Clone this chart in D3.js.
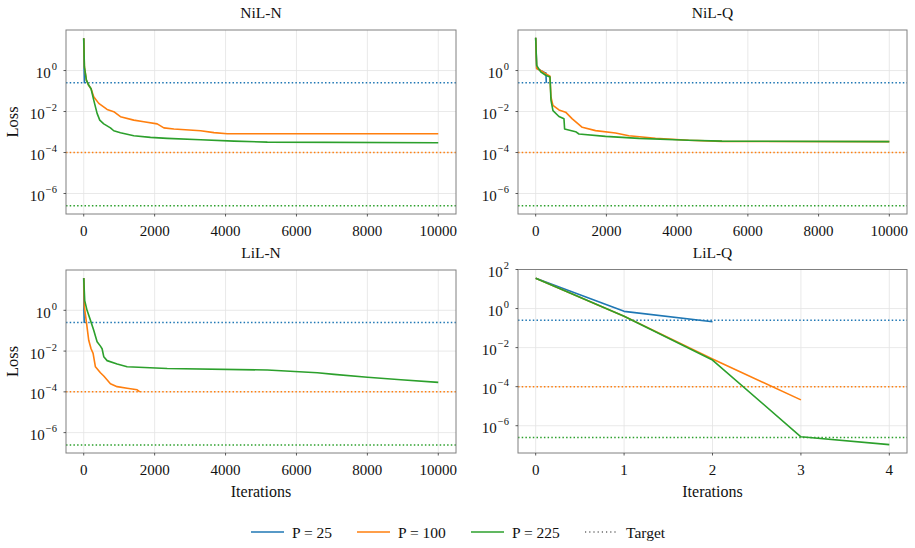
<!DOCTYPE html>
<html>
<head>
<meta charset="utf-8">
<script src="https://cdn.jsdelivr.net/npm/d3@7"></script>
<style>
  body { margin: 0; background: #fff; }
  text { font-family: "Liberation Serif", "DejaVu Serif", serif; fill: #111; }
</style>
</head>
<body>
<div id="main"></div>
<script>
// series labels and colours
const seriesNames = ['P = 25', 'P = 100', 'P = 225'];
const colors = ['#1f77b4', '#ff7f0e', '#2ca02c'];
// target loss for each P
const targets = [0.25, 1e-4, 2.5e-7];

// NiL-N : [iteration, loss]
const nilN_p25 = [[0, 38], [10, 1.2], [20, 0.24]];
const nilN_p100 = [[0, 38], [19, 1.5], [75, 0.34], [141, 0.19], [207, 0.13], [282, 0.052], [424, 0.025],
  [659, 0.0126], [847, 9.8e-3], [1036, 5.6e-3], [1412, 3.8e-3], [1695, 3.2e-3], [2072, 2.5e-3],
  [2260, 1.6e-3], [2542, 1.4e-3], [3296, 1.15e-3], [3672, 9.3e-4], [4049, 8.3e-4], [10000, 8.3e-4]];
const nilN_p225 = [[0, 38], [19, 1.5], [75, 0.34], [141, 0.19], [207, 0.13], [282, 0.036], [377, 8.1e-3],
  [452, 3.8e-3], [565, 2.5e-3], [753, 1.6e-3], [847, 1.15e-3], [1036, 9.3e-4], [1412, 6.6e-4],
  [1883, 5.5e-4], [2354, 4.9e-4], [3296, 4.2e-4], [4237, 3.6e-4], [5179, 3.2e-4], [10000, 3.0e-4]];

// NiL-Q
const nilQ_p25 = [[0, 40], [28, 1.3], [141, 1.0], [250, 0.8], [290, 0.75], [300, 0.25]];
const nilQ_p100 = [[0, 40], [28, 1.25], [141, 1.0], [282, 0.71], [404, 0.53], [433, 0.05], [489, 0.02],
  [658, 0.012], [847, 9.3e-3], [1035, 4.4e-3], [1317, 1.7e-3], [1693, 1.17e-3], [2258, 8.9e-4],
  [2634, 6.6e-4], [3387, 5.0e-4], [4327, 4.0e-4], [5268, 3.5e-4], [10000, 3.4e-4]];
const nilQ_p225 = [[0, 40], [28, 1.8], [141, 0.86], [282, 0.59], [404, 0.49], [433, 0.035], [489, 0.011],
  [658, 5.7e-3], [800, 4.4e-3], [818, 1.4e-3], [1129, 1.04e-3], [1223, 8e-4], [1975, 6.1e-4],
  [2916, 4.9e-4], [4327, 4.0e-4], [5268, 3.6e-4], [10000, 3.4e-4]];

// LiL-N
const lilN_p25 = [[0, 38], [5, 1.0], [15, 0.24]];
const lilN_p100 = [[0, 38], [19, 1.45], [75, 0.27], [141, 0.034], [207, 0.013], [264, 7.7e-3], [330, 1.7e-3],
  [471, 8.7e-4], [565, 6e-4], [753, 2.5e-4], [942, 1.8e-4], [1224, 1.5e-4], [1507, 1.26e-4], [1582, 1e-4]];
const lilN_p225 = [[0, 38], [28, 3], [94, 1], [188, 0.33], [282, 0.106], [377, 0.029], [471, 0.0175],
  [518, 0.013], [565, 5.3e-3], [659, 3.4e-3], [942, 2.3e-3], [1224, 1.7e-3], [2354, 1.4e-3],
  [5179, 1.18e-3], [6591, 8.7e-4], [7062, 7.2e-4], [8003, 5.2e-4], [8945, 3.9e-4], [10000, 2.9e-4]];

// LiL-Q
const lilQ_p25 = [[0, 36], [1, 0.72], [2, 0.21]];
const lilQ_p100 = [[0, 36], [1, 0.4], [2, 2.6e-3], [3, 2.1e-5]];
const lilQ_p225 = [[0, 36], [1, 0.4], [2, 2.3e-3], [3, 2.7e-7], [4, 1.07e-7]];

const xTicksLong = [0, 2000, 4000, 6000, 8000, 10000];
const xTicksShort = [0, 1, 2, 3, 4];
const yTicksA = [1e0, 1e-2, 1e-4, 1e-6];
const yTicksB = [1e2, 1e0, 1e-2, 1e-4, 1e-6];

const panels = [
  { title: 'NiL-N', series: [nilN_p25, nilN_p100, nilN_p225], box: [66, 456, 30, 214],
    xDomain: [-500, 10500], yDomain: [1e-7, 95], xTicks: xTicksLong, yTicks: yTicksA, yLabel: true, xLabel: false },
  { title: 'NiL-Q', series: [nilQ_p25, nilQ_p100, nilQ_p225], box: [518, 907, 30, 214],
    xDomain: [-500, 10500], yDomain: [1e-7, 95], xTicks: xTicksLong, yTicks: yTicksA, yLabel: false, xLabel: false },
  { title: 'LiL-N', series: [lilN_p25, lilN_p100, lilN_p225], box: [66, 456, 270, 453],
    xDomain: [-500, 10500], yDomain: [1e-7, 95], xTicks: xTicksLong, yTicks: yTicksA, yLabel: true, xLabel: true },
  { title: 'LiL-Q', series: [lilQ_p25, lilQ_p100, lilQ_p225], box: [518, 907, 269.5, 453],
    xDomain: [-0.2, 4.2], yDomain: [4e-8, 100], xTicks: xTicksShort, yTicks: yTicksB, yLabel: false, xLabel: true }
];

const svg = d3.select('#main')
  .append('svg')
  .attr('width', 915)
  .attr('height', 548);

panels.forEach((p, pi) => {
  const [x0, x1, y0, y1] = p.box;
  const xScale = d3.scaleLinear().domain(p.xDomain).range([x0, x1]);
  const yScale = d3.scaleLog().domain(p.yDomain).range([y1, y0]);
  const g = svg.append('g');

  // clip region for data lines
  g.append('clipPath').attr('id', 'clip' + pi)
    .append('rect').attr('x', x0).attr('y', y0).attr('width', x1 - x0).attr('height', y1 - y0);

  // grid
  g.selectAll('.gx').data(p.xTicks).enter().append('line')
    .attr('x1', d => xScale(d)).attr('x2', d => xScale(d))
    .attr('y1', y0).attr('y2', y1)
    .attr('stroke', '#e3e3e3').attr('stroke-width', 0.8);
  g.selectAll('.gy').data(p.yTicks).enter().append('line')
    .attr('x1', x0).attr('x2', x1)
    .attr('y1', d => yScale(d)).attr('y2', d => yScale(d))
    .attr('stroke', '#e3e3e3').attr('stroke-width', 0.8);

  const plot = g.append('g').attr('clip-path', `url(#clip${pi})`);

  // target lines
  targets.forEach((t, i) => {
    plot.append('line')
      .attr('x1', x0).attr('x2', x1)
      .attr('y1', yScale(t)).attr('y2', yScale(t))
      .attr('stroke', colors[i]).attr('stroke-width', 1.5)
      .attr('stroke-dasharray', '1.5,2.2');
  });

  // loss curves
  const line = d3.line()
    .x(d => xScale(d[0]))
    .y(d => yScale(d[1]));
  p.series.forEach((s, i) => {
    plot.append('path')
      .attr('d', line(s))
      .attr('fill', 'none')
      .attr('stroke', colors[i])
      .attr('stroke-width', 1.6)
      .attr('stroke-linejoin', 'round');
  });

  // frame
  g.append('rect')
    .attr('x', x0).attr('y', y0).attr('width', x1 - x0).attr('height', y1 - y0)
    .attr('fill', 'none').attr('stroke', '#808080').attr('stroke-width', 1);

  // x ticks
  p.xTicks.forEach(t => {
    g.append('line').attr('x1', xScale(t)).attr('x2', xScale(t))
      .attr('y1', y1).attr('y2', y1 + 2.5).attr('stroke', '#333').attr('stroke-width', 0.8);
    g.append('text').attr('x', xScale(t)).attr('y', y1 + 21.5)
      .attr('text-anchor', 'middle').attr('font-size', 15).text(t);
  });

  // y ticks, 10^n labels
  p.yTicks.forEach(t => {
    const y = yScale(t);
    g.append('line').attr('x1', x0 - 2.5).attr('x2', x0)
      .attr('y1', y).attr('y2', y).attr('stroke', '#333').attr('stroke-width', 0.8);
    const exp = String(Math.round(Math.log10(t))).replace('-', '\u2212');
    const txt = g.append('text').attr('x', x0 - 9).attr('y', y + 7.5)
      .attr('text-anchor', 'end').attr('font-size', 15);
    txt.append('tspan').text('10');
    txt.append('tspan').attr('dy', -8).attr('dx', 1).attr('font-size', 10.5).text(exp);
  });

  // title
  g.append('text').attr('x', (x0 + x1) / 2).attr('y', y0 - 11.7)
    .attr('text-anchor', 'middle').attr('font-size', 15.5).text(p.title);

  if (p.yLabel) {
    g.append('text')
      .attr('transform', `translate(17.5, ${(y0 + y1) / 2}) rotate(-90)`)
      .attr('text-anchor', 'middle').attr('font-size', 16.5).text('Loss');
  }
  if (p.xLabel) {
    g.append('text').attr('x', (x0 + x1) / 2).attr('y', y1 + 43.5)
      .attr('text-anchor', 'middle').attr('font-size', 16).text('Iterations');
  }
});

// legend
const legendItems = [
  { label: seriesNames[0], color: colors[0], x: 251, dash: null },
  { label: seriesNames[1], color: colors[1], x: 357, dash: null },
  { label: seriesNames[2], color: colors[2], x: 471, dash: null },
  { label: 'Target', color: '#222', x: 585, dash: '1.2,3' }
];
const legend = svg.append('g');
legendItems.forEach(item => {
  const w = 33;
  legend.append('line')
    .attr('x1', item.x).attr('x2', item.x + w)
    .attr('y1', 532).attr('y2', 532)
    .attr('stroke', item.color).attr('stroke-width', item.dash ? 1.2 : 1.6)
    .attr('stroke-dasharray', item.dash);
  legend.append('text').attr('x', item.x + w + 8).attr('y', 537.5)
    .attr('font-size', 15.5).text(item.label);
});
</script>
</body>
</html>
